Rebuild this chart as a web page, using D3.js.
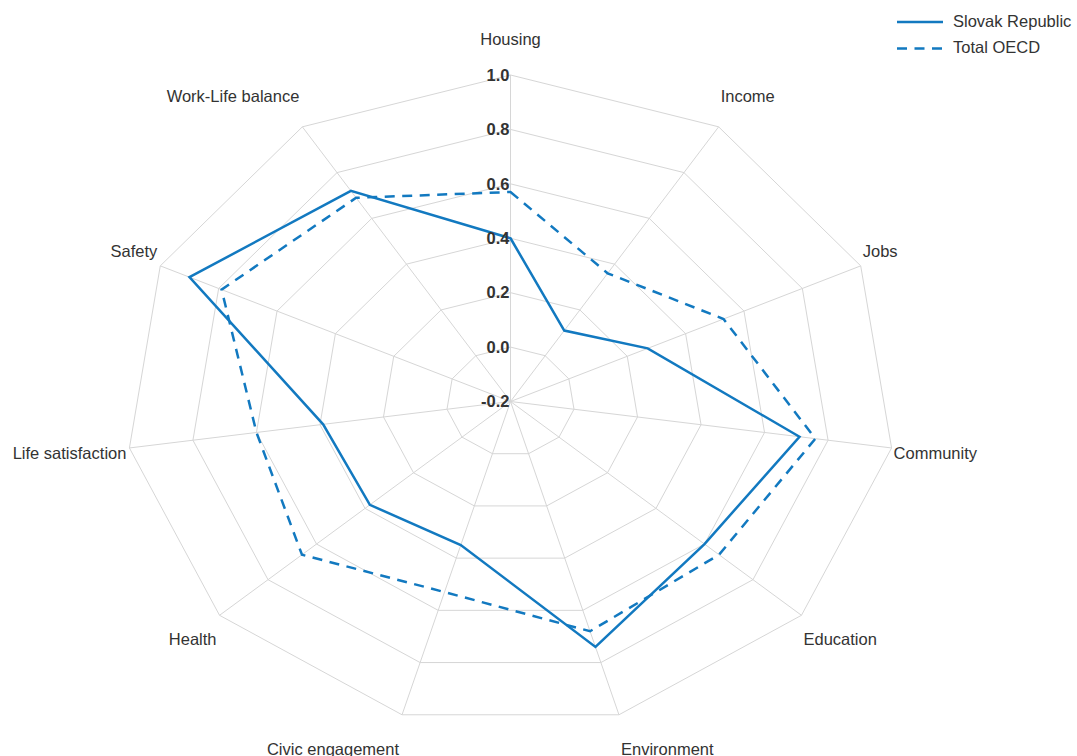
<!DOCTYPE html>
<html>
<head>
<meta charset="utf-8">
<script src="https://cdn.jsdelivr.net/npm/d3@7"></script>
<style>
  html, body { margin: 0; padding: 0; background: #fff; }
  svg { display: block; font-family: "Liberation Sans", Arial, Helvetica, sans-serif; }
</style>
</head>
<body>
<svg id="chart" width="1077" height="756"></svg>
<script>
const categories = ["Housing", "Income", "Jobs", "Community", "Education", "Environment",
  "Civic engagement", "Health", "Life satisfaction", "Safety", "Work-Life balance"];
const slovakRepublic = [0.40, 0.11, 0.27, 0.71, 0.60, 0.74, 0.35, 0.38, 0.39, 0.90, 0.72];
const totalOECD = [0.57, 0.36, 0.53, 0.76, 0.66, 0.68, 0.53, 0.66, 0.60, 0.79, 0.69];
const tickValues = [-0.2, 0.0, 0.2, 0.4, 0.6, 0.8, 1.0];
const tickLabels = ["-0.2", "0.0", "0.2", "0.4", "0.6", "0.8", "1.0"];
const seriesNames = ["Slovak Republic", "Total OECD"];

const svg = d3.select("#chart");
const cx = 510.5, cy = 401.5;
const color = "#1279c0";
const gridColor = "#d6d6d6";

// radial scales (chart is drawn slightly wider than tall)
const rX = d3.scaleLinear().domain([-0.2, 1.0]).range([0, 385]);
const rY = d3.scaleLinear().domain([-0.2, 1.0]).range([0, 326.5]);
const angle = d3.scaleLinear().domain([0, categories.length]).range([0, 2 * Math.PI]);

function pt(i, v) {
  const a = angle(i);
  return [cx + rX(v) * Math.sin(a), cy - rY(v) * Math.cos(a)];
}

const grid = svg.append("g");
tickValues.forEach(t => {
  const pts = categories.map((c, i) => pt(i, t));
  grid.append("path")
    .attr("d", d3.line()(pts) + "Z")
    .attr("fill", "none")
    .attr("stroke", gridColor)
    .attr("stroke-width", 1);
});
categories.forEach((c, i) => {
  const [x, y] = pt(i, 1.0);
  grid.append("line")
    .attr("x1", cx).attr("y1", cy).attr("x2", x).attr("y2", y)
    .attr("stroke", gridColor).attr("stroke-width", 1);
});

// category labels
categories.forEach((c, i) => {
  const a = angle(i);
  const [x, y] = pt(i, 1.0);
  const s = Math.sin(a);
  let anchor = "middle", dx = 0;
  if (s > 0.1) { anchor = "start"; dx = 2; }
  else if (s < -0.1) { anchor = "end"; dx = -3; }
  svg.append("text")
    .attr("x", x + dx)
    .attr("y", y - 36 * Math.cos(a))
    .attr("dy", "0.35em")
    .attr("text-anchor", anchor)
    .attr("font-size", "16.5px")
    .attr("fill", "#333")
    .text(c);
});

// series
const lineGen = d3.line().x(d => d[0]).y(d => d[1]);
const seriesData = [
  { name: seriesNames[0], values: slovakRepublic, dash: null },
  { name: seriesNames[1], values: totalOECD, dash: "10,7.5" }
];
seriesData.forEach(s => {
  const pts = s.values.map((v, i) => pt(i, v));
  svg.append("path")
    .attr("d", lineGen(pts) + "Z")
    .attr("fill", "none")
    .attr("stroke", color)
    .attr("stroke-width", 2.5)
    .attr("stroke-linejoin", "miter")
    .attr("stroke-dasharray", s.dash);
});

// radial tick labels
tickValues.forEach((t, k) => {
  svg.append("text")
    .attr("x", cx - 1)
    .attr("y", cy - rY(t))
    .attr("dy", "0.35em")
    .attr("text-anchor", "end")
    .attr("font-size", "16.5px")
    .attr("font-weight", "bold")
    .attr("fill", "#333")
    .text(tickLabels[k]);
});

// legend
const legend = svg.append("g");
seriesData.forEach((s, k) => {
  const ly = 22 + k * 26.5;
  legend.append("line")
    .attr("x1", 897).attr("x2", 943).attr("y1", ly).attr("y2", ly)
    .attr("stroke", color).attr("stroke-width", 2.5)
    .attr("stroke-dasharray", s.dash);
  legend.append("text")
    .attr("x", 953).attr("y", ly - 1)
    .attr("dy", "0.35em")
    .attr("font-size", "16.5px")
    .attr("fill", "#333")
    .text(s.name);
});
</script>
</body>
</html>
